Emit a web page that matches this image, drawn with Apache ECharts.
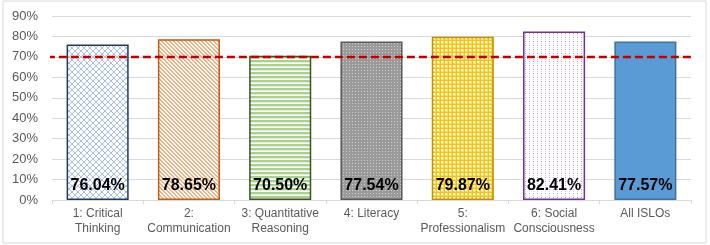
<!DOCTYPE html>
<html><head><meta charset="utf-8">
<script src="https://cdn.jsdelivr.net/npm/echarts@6/dist/echarts.min.js"></script>
<style>html,body{margin:0;padding:0;background:#fff}#c{width:710px;height:245px}</style>
</head><body><div id="c"></div>
<script>
const categories = ['1: Critical\nThinking','2:\nCommunication','3: Quantitative\nReasoning','4: Literacy','5:\nProfessionalism','6: Social\nConsciousness','All ISLOs'];
const values = [76.04, 78.65, 70.50, 77.54, 79.87, 82.41, 77.57];
const threshold = 70;
const yTicks = [0,10,20,30,40,50,60,70,80,90];

function pat(size, draw){
  const c = document.createElement('canvas'); c.width = size; c.height = size;
  const g = c.getContext('2d'); g.fillStyle='#fff'; g.fillRect(0,0,size,size); draw(g,size);
  return {image:c, repeat:'repeat'};
}
const p1 = pat(6,(g)=>{ g.fillStyle='#a9bfe8';
  for(let i=0;i<6;i++){ g.fillRect(i,i,1,1); g.fillRect(5-i,i,1,1);} });
const p2 = pat(4,(g)=>{ g.fillStyle='#f4b183';
  for(let i=0;i<4;i++){ g.fillRect(i,i,2,1); } g.fillRect(0,3,1,1); });
const p3 = pat(4,(g)=>{ g.fillStyle='#a9d18e'; g.fillRect(0,0,4,2); g.fillStyle='#e2f0d9'; g.fillRect(0,2,4,1); });
const p4 = pat(3,(g)=>{ g.fillStyle='#9a9a9a'; g.fillRect(0,0,3,3); g.fillStyle='#cfcfcf'; g.fillRect(1,1,1,1); });
const p5 = pat(4,(g)=>{ g.fillStyle='#ffd966'; g.fillRect(0,0,4,4); g.fillStyle='#fff'; g.fillRect(1,1,2,2); g.fillStyle='#ffc000'; g.fillRect(0,0,4,1); g.fillRect(0,0,1,4);});
const p6 = pat(4,(g)=>{ g.fillStyle='#b39bd3'; g.fillRect(1,1,1,1); g.fillStyle='#e3d9ef'; g.fillRect(1,3,1,1); });

const fills = [p1,p2,p3,p4,p5,p6,'#5b9bd5'];
const borders = ['#1f3864','#c55a11','#385723','#595959','#bf9000','#7030a0','#41719c'];

const chart = echarts.init(document.getElementById('c'), null, {renderer:'canvas'});
chart.setOption({
  animation:false,
  graphic:[{type:'rect', shape:{x:3,y:1,width:703,height:242}, style:{fill:'none', stroke:'#d9d9d9', lineWidth:1}}],
  grid:{left:52, right:19, top:16, bottom:45},
  xAxis:[{
    type:'category', data:categories,
    axisLine:{lineStyle:{color:'#d9d9d9'}},
    axisTick:{show:true, length:4, lineStyle:{color:'#d9d9d9'}},
    axisLabel:{color:'#595959', fontFamily:'Liberation Sans, Arial', fontSize:12, lineHeight:15, margin:6, interval:0}
  },{
    type:'value', min:0, max:1, show:false
  }],
  yAxis:{
    type:'value', min:0, max:90, interval:10,
    axisLabel:{formatter:'{value}%', color:'#595959', fontFamily:'Liberation Sans, Arial', fontSize:13, margin:14},
    splitLine:{lineStyle:{color:'#d9d9d9'}},
    axisLine:{show:false}, axisTick:{show:false}
  },
  series:[{
    type:'bar', barWidth:'68%',
    data: values.map((v,i)=>({value:v, itemStyle:{color:fills[i], borderColor:borders[i], borderWidth:1.5}})),
    label:{show:true, position:'insideBottom', distance:6, formatter:(p)=>p.value.toFixed(2)+'%',
      color:'#000', fontWeight:'bold', fontSize:16, fontFamily:'Liberation Sans, Arial'}
  },{
    type:'line', xAxisIndex:1, clip:false, symbol:'none', silent:true,
    data:[[-0.008,threshold],[1.009,threshold]],
    lineStyle:{color:'#c00000', width:2.5, type:[8,4]}
  }]
});
</script></body></html>
